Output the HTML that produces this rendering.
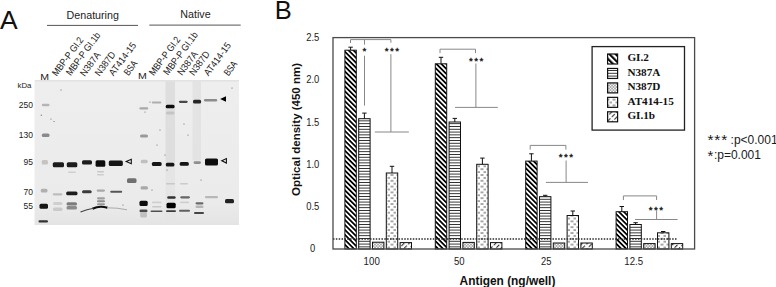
<!DOCTYPE html>
<html><head><meta charset="utf-8"><style>
html,body{margin:0;padding:0;background:#fff;width:776px;height:287px;overflow:hidden}
svg{display:block}
text{font-family:"Liberation Sans",sans-serif}
.serif{font-family:"Liberation Serif",serif;font-weight:bold}
</style></head><body>
<svg width="776" height="287" viewBox="0 0 776 287">
<defs>
<pattern id="pGI2" patternUnits="userSpaceOnUse" width="3.5" height="10" patternTransform="rotate(-45)">
<rect x="0" y="0" width="3.5" height="10" fill="#fff"/><rect x="0" y="0" width="1.75" height="10" fill="#000"/></pattern>
<pattern id="pN387A" patternUnits="userSpaceOnUse" width="10" height="2.8">
<rect x="0" y="0" width="10" height="2.8" fill="#fff"/><rect x="0" y="0" width="10" height="0.9" fill="#222"/></pattern>
<pattern id="pN387D" patternUnits="userSpaceOnUse" width="3" height="3">
<rect width="3" height="3" fill="#fff"/><circle cx="1.5" cy="1.5" r="1.1" fill="none" stroke="#777" stroke-width="0.7"/></pattern>
<pattern id="pAT" patternUnits="userSpaceOnUse" width="6" height="5.8">
<rect width="6" height="5.8" fill="#fff"/><rect x="0.5" y="0.5" width="3" height="1" fill="#555"/><rect x="3.5" y="3.4" width="3" height="1" fill="#555"/></pattern>
<pattern id="pGI1b" patternUnits="userSpaceOnUse" width="3.6" height="6" patternTransform="rotate(45)">
<rect width="3.6" height="6" fill="#fff"/><rect x="0" y="0" width="1.1" height="4.2" fill="#333"/></pattern>
<pattern id="lGI2" patternUnits="userSpaceOnUse" width="4.4" height="10" patternTransform="rotate(-45)">
<rect x="0" y="0" width="4.4" height="10" fill="#fff"/><rect x="0" y="0" width="2.1" height="10" fill="#000"/></pattern>
<filter id="b1" x="-50%" y="-50%" width="200%" height="200%"><feGaussianBlur stdDeviation="0.75"/></filter><filter id="b0" x="-10%" y="-10%" width="120%" height="120%"><feGaussianBlur stdDeviation="0.45"/></filter>
<filter id="b2" x="-50%" y="-50%" width="200%" height="200%"><feGaussianBlur stdDeviation="1.3"/></filter>
<filter id="b3" x="-50%" y="-50%" width="200%" height="200%"><feGaussianBlur stdDeviation="2.5"/></filter>
</defs>

<text x="-0.1" y="28.7" font-size="26.5" fill="#111">A</text>
<text x="274.8" y="18.9" font-size="25.5" fill="#111">B</text>
<rect x="344.90" y="50.20" width="11.4" height="198.80" fill="url(#pGI2)" stroke="#111" stroke-width="1"/>
<line x1="350.60" y1="50.20" x2="350.60" y2="47.20" stroke="#111" stroke-width="1"/>
<line x1="348.40" y1="47.20" x2="352.80" y2="47.20" stroke="#111" stroke-width="1"/>
<rect x="358.70" y="118.70" width="11.4" height="130.30" fill="url(#pN387A)" stroke="#111" stroke-width="1"/>
<line x1="364.40" y1="118.70" x2="364.40" y2="113.10" stroke="#111" stroke-width="1"/>
<line x1="362.20" y1="113.10" x2="366.60" y2="113.10" stroke="#111" stroke-width="1"/>
<rect x="372.50" y="242.20" width="11.4" height="6.80" fill="url(#pN387D)" stroke="#111" stroke-width="1"/>
<rect x="386.30" y="173.00" width="11.4" height="76.00" fill="url(#pAT)" stroke="#111" stroke-width="1"/>
<line x1="392.00" y1="173.00" x2="392.00" y2="166.30" stroke="#111" stroke-width="1"/>
<line x1="389.80" y1="166.30" x2="394.20" y2="166.30" stroke="#111" stroke-width="1"/>
<rect x="400.10" y="242.60" width="11.4" height="6.40" fill="url(#pGI1b)" stroke="#111" stroke-width="1"/>
<rect x="435.30" y="63.80" width="11.4" height="185.20" fill="url(#pGI2)" stroke="#111" stroke-width="1"/>
<line x1="441.00" y1="63.80" x2="441.00" y2="57.30" stroke="#111" stroke-width="1"/>
<line x1="438.80" y1="57.30" x2="443.20" y2="57.30" stroke="#111" stroke-width="1"/>
<rect x="449.10" y="122.00" width="11.4" height="127.00" fill="url(#pN387A)" stroke="#111" stroke-width="1"/>
<line x1="454.80" y1="122.00" x2="454.80" y2="118.40" stroke="#111" stroke-width="1"/>
<line x1="452.60" y1="118.40" x2="457.00" y2="118.40" stroke="#111" stroke-width="1"/>
<rect x="462.90" y="242.40" width="11.4" height="6.60" fill="url(#pN387D)" stroke="#111" stroke-width="1"/>
<rect x="476.70" y="164.30" width="11.4" height="84.70" fill="url(#pAT)" stroke="#111" stroke-width="1"/>
<line x1="482.40" y1="164.30" x2="482.40" y2="158.10" stroke="#111" stroke-width="1"/>
<line x1="480.20" y1="158.10" x2="484.60" y2="158.10" stroke="#111" stroke-width="1"/>
<rect x="490.50" y="242.60" width="11.4" height="6.40" fill="url(#pGI1b)" stroke="#111" stroke-width="1"/>
<rect x="525.70" y="161.10" width="11.4" height="87.90" fill="url(#pGI2)" stroke="#111" stroke-width="1"/>
<line x1="531.40" y1="161.10" x2="531.40" y2="153.80" stroke="#111" stroke-width="1"/>
<line x1="529.20" y1="153.80" x2="533.60" y2="153.80" stroke="#111" stroke-width="1"/>
<rect x="539.50" y="196.70" width="11.4" height="52.30" fill="url(#pN387A)" stroke="#111" stroke-width="1"/>
<line x1="545.20" y1="196.70" x2="545.20" y2="195.30" stroke="#111" stroke-width="1"/>
<line x1="543.00" y1="195.30" x2="547.40" y2="195.30" stroke="#111" stroke-width="1"/>
<rect x="553.30" y="243.00" width="11.4" height="6.00" fill="url(#pN387D)" stroke="#111" stroke-width="1"/>
<rect x="567.10" y="215.50" width="11.4" height="33.50" fill="url(#pAT)" stroke="#111" stroke-width="1"/>
<line x1="572.80" y1="215.50" x2="572.80" y2="211.00" stroke="#111" stroke-width="1"/>
<line x1="570.60" y1="211.00" x2="575.00" y2="211.00" stroke="#111" stroke-width="1"/>
<rect x="580.90" y="243.00" width="11.4" height="6.00" fill="url(#pGI1b)" stroke="#111" stroke-width="1"/>
<rect x="616.10" y="211.70" width="11.4" height="37.30" fill="url(#pGI2)" stroke="#111" stroke-width="1"/>
<line x1="621.80" y1="211.70" x2="621.80" y2="206.50" stroke="#111" stroke-width="1"/>
<line x1="619.60" y1="206.50" x2="624.00" y2="206.50" stroke="#111" stroke-width="1"/>
<rect x="629.90" y="224.50" width="11.4" height="24.50" fill="url(#pN387A)" stroke="#111" stroke-width="1"/>
<line x1="635.60" y1="224.50" x2="635.60" y2="222.70" stroke="#111" stroke-width="1"/>
<line x1="633.40" y1="222.70" x2="637.80" y2="222.70" stroke="#111" stroke-width="1"/>
<rect x="643.70" y="243.60" width="11.4" height="5.40" fill="url(#pN387D)" stroke="#111" stroke-width="1"/>
<rect x="657.50" y="232.80" width="11.4" height="16.20" fill="url(#pAT)" stroke="#111" stroke-width="1"/>
<line x1="663.20" y1="232.80" x2="663.20" y2="231.50" stroke="#111" stroke-width="1"/>
<line x1="661.00" y1="231.50" x2="665.40" y2="231.50" stroke="#111" stroke-width="1"/>
<rect x="671.30" y="243.60" width="11.4" height="5.40" fill="url(#pGI1b)" stroke="#111" stroke-width="1"/>
<line x1="333.0" y1="239" x2="677" y2="239" stroke="#2a2a2a" stroke-width="1.5" stroke-dasharray="1.5 1.35"/>
<rect x="333.0" y="37.6" width="361.6" height="211.4" fill="none" stroke="#4a4a4a" stroke-width="1.3"/>
<line x1="350.5" y1="39.6" x2="390.9" y2="39.6" stroke="#888" stroke-width="1"/>
<line x1="350.5" y1="39.6" x2="350.5" y2="43" stroke="#888" stroke-width="1"/>
<line x1="364.5" y1="39.6" x2="364.5" y2="44.7" stroke="#888" stroke-width="1"/>
<line x1="364.5" y1="55.7" x2="364.5" y2="105.6" stroke="#888" stroke-width="1"/>
<line x1="390.9" y1="39.6" x2="390.9" y2="42.8" stroke="#888" stroke-width="1"/>
<line x1="390.9" y1="54.1" x2="390.9" y2="132" stroke="#888" stroke-width="1"/>
<line x1="374.8" y1="132" x2="408.8" y2="132" stroke="#888" stroke-width="1"/>
<line x1="440" y1="49.2" x2="475.5" y2="49.2" stroke="#888" stroke-width="1"/>
<line x1="440" y1="49.2" x2="440" y2="53.1" stroke="#888" stroke-width="1"/>
<line x1="475.5" y1="49.2" x2="475.5" y2="53.1" stroke="#888" stroke-width="1"/>
<line x1="475.9" y1="63.5" x2="475.9" y2="107.4" stroke="#888" stroke-width="1"/>
<line x1="455" y1="107.4" x2="497.8" y2="107.4" stroke="#888" stroke-width="1"/>
<line x1="530.2" y1="145.4" x2="565.9" y2="145.4" stroke="#888" stroke-width="1"/>
<line x1="530.2" y1="145.4" x2="530.2" y2="149.6" stroke="#888" stroke-width="1"/>
<line x1="565.9" y1="145.4" x2="565.9" y2="149.6" stroke="#888" stroke-width="1"/>
<line x1="566.1" y1="160.5" x2="566.1" y2="182.4" stroke="#888" stroke-width="1"/>
<line x1="545.9" y1="182.4" x2="588" y2="182.4" stroke="#888" stroke-width="1"/>
<line x1="623.4" y1="195.9" x2="656.6" y2="195.9" stroke="#888" stroke-width="1"/>
<line x1="623.4" y1="195.9" x2="623.4" y2="200" stroke="#888" stroke-width="1"/>
<line x1="656.6" y1="195.9" x2="656.6" y2="200" stroke="#888" stroke-width="1"/>
<line x1="656.6" y1="210.5" x2="656.6" y2="219.5" stroke="#888" stroke-width="1"/>
<line x1="635" y1="219.5" x2="677.6" y2="219.5" stroke="#888" stroke-width="1"/>
<text x="362.5" y="54.4" font-size="9.8" letter-spacing="0" fill="#111" stroke="#111" stroke-width="0.35">*</text>
<text x="384.8" y="53.8" font-size="9.8" letter-spacing="1.45" fill="#111" stroke="#111" stroke-width="0.35">***</text>
<text x="469" y="64" font-size="9.8" letter-spacing="1.45" fill="#111" stroke="#111" stroke-width="0.35">***</text>
<text x="558.8" y="160.3" font-size="9.8" letter-spacing="1.45" fill="#111" stroke="#111" stroke-width="0.35">***</text>
<text x="648.8" y="212.5" font-size="9.8" letter-spacing="1.45" fill="#111" stroke="#111" stroke-width="0.35">***</text>
<text x="306.2" y="40.9" font-size="10.4" textLength="13.1" lengthAdjust="spacingAndGlyphs" fill="#1a1a1a">2.5</text>
<text x="306.2" y="83.2" font-size="10.4" textLength="13.1" lengthAdjust="spacingAndGlyphs" fill="#1a1a1a">2.0</text>
<text x="306.2" y="125.5" font-size="10.4" textLength="13.1" lengthAdjust="spacingAndGlyphs" fill="#1a1a1a">1.5</text>
<text x="306.2" y="167.7" font-size="10.4" textLength="13.1" lengthAdjust="spacingAndGlyphs" fill="#1a1a1a">1.0</text>
<text x="306.2" y="210.0" font-size="10.4" textLength="13.1" lengthAdjust="spacingAndGlyphs" fill="#1a1a1a">0.5</text>
<text x="309.9" y="252.3" font-size="10.4" textLength="5.2" lengthAdjust="spacingAndGlyphs" fill="#1a1a1a">0</text>
<text x="363.6" y="264.6" font-size="10.4" textLength="16.2" lengthAdjust="spacingAndGlyphs" fill="#1a1a1a">100</text>
<text x="453.9" y="264.6" font-size="10.4" textLength="10.6" lengthAdjust="spacingAndGlyphs" fill="#1a1a1a">50</text>
<text x="541.1" y="264.6" font-size="10.4" textLength="10.4" lengthAdjust="spacingAndGlyphs" fill="#1a1a1a">25</text>
<text x="624.3" y="264.6" font-size="10.4" textLength="18.8" lengthAdjust="spacingAndGlyphs" fill="#1a1a1a">12.5</text>
<text x="459.6" y="284.5" font-size="11.9" font-weight="bold" fill="#111">Antigen (ng/well)</text>
<text transform="translate(300.2,195.9) rotate(-90)" font-size="11.5" font-weight="bold" fill="#111">Optical density (450 nm)</text>
<rect x="592.1" y="46.6" width="92.4" height="83.5" fill="#fff" stroke="#222" stroke-width="1.3"/>
<rect x="607.6" y="54.00" width="10" height="10" fill="url(#lGI2)" stroke="#111" stroke-width="1.2"/>
<text class="serif" x="627.4" y="61.20" font-size="11.2" fill="#111">GI.2</text>
<rect x="607.6" y="68.45" width="10" height="10" fill="url(#pN387A)" stroke="#111" stroke-width="1.2"/>
<text class="serif" x="627.4" y="75.65" font-size="11.2" fill="#111">N387A</text>
<rect x="607.6" y="82.90" width="10" height="10" fill="url(#pN387D)" stroke="#111" stroke-width="1.2"/>
<text class="serif" x="627.4" y="90.10" font-size="11.2" fill="#111">N387D</text>
<rect x="607.6" y="97.35" width="10" height="10" fill="url(#pAT)" stroke="#111" stroke-width="1.2"/>
<text class="serif" x="627.4" y="104.55" font-size="11.2" fill="#111">AT414-15</text>
<rect x="607.6" y="111.80" width="10" height="10" fill="url(#pGI1b)" stroke="#111" stroke-width="1.2"/>
<text class="serif" x="627.4" y="119.00" font-size="11.2" fill="#111">GI.1b</text>
<text x="707.4" y="145.3" font-size="15.5" letter-spacing="0.9" fill="#1a1a1a">***</text>
<text x="730.6" y="143.8" font-size="12.0" fill="#1a1a1a">:p&lt;0.001</text>
<text x="707.4" y="160.8" font-size="15" fill="#1a1a1a">*</text>
<text x="713.9" y="159.4" font-size="12.0" fill="#1a1a1a">:p=0.001</text>
<text x="66.6" y="18.7" font-size="10.7" fill="#222">Denaturing</text>
<text x="180.3" y="17.7" font-size="10.7" fill="#222">Native</text>
<line x1="47" y1="25.4" x2="138" y2="25.4" stroke="#555" stroke-width="1"/>
<line x1="149.3" y1="25.1" x2="240.7" y2="25.1" stroke="#555" stroke-width="1"/>
<defs><linearGradient id="gelg" x1="0" y1="0" x2="0" y2="1"><stop offset="0" stop-color="#eeeeee"/><stop offset="0.85" stop-color="#ebebeb"/><stop offset="1" stop-color="#e4e4e4"/></linearGradient></defs>
<rect x="34.5" y="80" width="204.5" height="145" fill="url(#gelg)" filter="url(#b0)"/>
<g filter="url(#b1)">
<rect x="165.5" y="80.5" width="9.5" height="85" fill="#dedede"/>
<rect x="165.5" y="165" width="9.5" height="57" fill="#e5e5e5"/>
<rect x="192.5" y="80.5" width="8.5" height="80" fill="#e3e3e3"/>
<rect x="35" y="80" width="204" height="1.5" fill="#e2e2e2"/>
</g>
<g filter="url(#b1)">
<rect x="41.8" y="103.8" width="7.7" height="2.5" rx="1.2" fill="#b5b5b5"/>
<rect x="41.8" y="133.5" width="7.7" height="3.5" rx="1.5" fill="#8a8a8a"/>
<rect x="41.7" y="160" width="6.3" height="4.5" rx="1.5" fill="#c4c4c4"/>
<rect x="40.7" y="188.7" width="6.8" height="3.8" rx="1.5" fill="#b0b0b0"/>
<rect x="39.5" y="203.8" width="8.5" height="5.0" rx="1.5" fill="#151515"/>
<rect x="38.5" y="220.3" width="9.5" height="2.2" rx="1.1" fill="#333"/>
<rect x="52.8" y="162.3" width="11.2" height="4.9" rx="1.5" fill="#1a1a1a"/>
<rect x="52.7" y="193.2" width="9.8" height="2.3" rx="1.2" fill="#bdbdbd"/>
<rect x="53" y="202" width="9.5" height="3.0" rx="1.5" fill="#cfcfcf"/>
<rect x="53" y="207.5" width="9.5" height="3.5" rx="1.5" fill="#cacaca"/>
<rect x="66.8" y="162.3" width="10.5" height="4.9" rx="1.5" fill="#1a1a1a"/>
<rect x="68" y="171.6" width="8.0" height="1.4" rx="0.7" fill="#d0d0d0"/>
<rect x="66.2" y="191.5" width="11.3" height="3.8" rx="1.5" fill="#1e1e1e"/>
<rect x="66.5" y="202.2" width="10.5" height="3.3" rx="1.5" fill="#7c7c7c"/>
<rect x="66.5" y="206" width="10.5" height="3.5" rx="1.5" fill="#8a8a8a"/>
<rect x="82" y="160.2" width="10.0" height="4.3" rx="1.5" fill="#1c1c1c"/>
<rect x="82" y="190.2" width="9.7" height="3.0" rx="1.5" fill="#3a3a3a"/>
<rect x="95.6" y="160.3" width="9.7" height="6.4" rx="1.5" fill="#0a0a0a"/>
<rect x="97" y="171" width="7.0" height="1.5" rx="0.8" fill="#c8c8c8"/>
<rect x="97" y="174" width="7.0" height="1.5" rx="0.8" fill="#cdcdcd"/>
<rect x="96.7" y="189.5" width="8.3" height="2.2" rx="1.1" fill="#a8a8a8"/>
<rect x="97" y="197.2" width="8.0" height="2.2" rx="1.1" fill="#a0a0a0"/>
<rect x="97" y="200.3" width="8.0" height="2.0" rx="1.0" fill="#8e8e8e"/>
<rect x="97" y="203.2" width="8.0" height="2.1" rx="1.1" fill="#999"/>
<rect x="108.8" y="160.4" width="14.0" height="5.6" rx="1.5" fill="#141414"/>
<rect x="110.2" y="190.7" width="12.0" height="2.1" rx="1.1" fill="#555"/>
<rect x="127" y="178.3" width="9.5" height="4.7" rx="1.5" fill="#707070"/>
<rect x="139.4" y="107.3" width="8.8" height="2.2" rx="1.1" fill="#a8a8a8"/>
<rect x="140" y="134.5" width="8.0" height="3.0" rx="1.5" fill="#9a9a9a"/>
<rect x="140.7" y="159.8" width="7.0" height="3.4" rx="1.5" fill="#c0c0c0"/>
<rect x="140.5" y="186.3" width="7.5" height="3.2" rx="1.5" fill="#a8a8a8"/>
<rect x="139.5" y="200.7" width="8.2" height="5.3" rx="1.5" fill="#0c0c0c"/>
<rect x="139.5" y="209.6" width="8.0" height="2.6" rx="1.3" fill="#4a4a4a"/>
<rect x="140.2" y="212" width="6.8" height="5.5" rx="1.5" fill="#c0c0c0"/>
<rect x="151.8" y="101.4" width="9.6" height="2.2" rx="1.1" fill="#adadad"/>
<rect x="151.9" y="162.1" width="9.7" height="3.9" rx="1.5" fill="#141414"/>
<rect x="152" y="201.5" width="9.5" height="1.8" rx="0.9" fill="#cfcfcf"/>
<rect x="152" y="206" width="9.5" height="1.5" rx="0.8" fill="#c8c8c8"/>
<rect x="150.5" y="210.4" width="12.0" height="1.6" rx="0.8" fill="#505050"/>
<rect x="165.7" y="104.8" width="8.9" height="3.5" rx="1.5" fill="#111"/>
<rect x="166" y="111.5" width="8.5" height="3.0" rx="1.5" fill="#c4c4c4"/>
<rect x="165.8" y="162.7" width="8.6" height="3.8" rx="1.5" fill="#141414"/>
<rect x="166" y="183" width="9.0" height="1.5" rx="0.8" fill="#c8c8c8"/>
<rect x="167.2" y="196.2" width="8.5" height="2.6" rx="1.3" fill="#333"/>
<rect x="166.5" y="202.7" width="9.2" height="5.5" rx="1.5" fill="#050505"/>
<rect x="166" y="210.2" width="10.0" height="1.8" rx="0.9" fill="#3a3a3a"/>
<rect x="178.9" y="100.7" width="8.8" height="2.2" rx="1.1" fill="#4a4a4a"/>
<rect x="179.7" y="162.1" width="9.1" height="3.7" rx="1.5" fill="#141414"/>
<rect x="180" y="183" width="8.0" height="1.5" rx="0.8" fill="#cacaca"/>
<rect x="180.2" y="196.2" width="9.8" height="2.3" rx="1.2" fill="#666"/>
<rect x="180" y="201.5" width="9.0" height="1.8" rx="0.9" fill="#cfcfcf"/>
<rect x="179" y="209.8" width="11.0" height="2.0" rx="1.0" fill="#606060"/>
<rect x="193" y="99.8" width="8.1" height="3.6" rx="1.5" fill="#262626"/>
<rect x="193.6" y="161.2" width="7.4" height="2.8" rx="1.4" fill="#8f8f8f"/>
<rect x="195.5" y="202.2" width="8.0" height="2.3" rx="1.2" fill="#6a6a6a"/>
<rect x="195.5" y="205.5" width="8.0" height="2.6" rx="1.3" fill="#b5b5b5"/>
<rect x="194" y="212" width="10.0" height="2.0" rx="1.0" fill="#444"/>
<rect x="204" y="98.9" width="13.2" height="2.5" rx="1.2" fill="#8c8c8c"/>
<rect x="205" y="158.6" width="13.0" height="6.8" rx="1.5" fill="#101010"/>
<rect x="205" y="196.1" width="13.0" height="2.2" rx="1.1" fill="#b8b8b8"/>
<rect x="225" y="199" width="9.0" height="4.2" rx="1.5" fill="#222"/>
<path d="M92.5 208.8 Q99.5 205.2 107.5 207.8" stroke="#0a0a0a" stroke-width="2.1" fill="none"/>
<path d="M80.5 212 Q87 209.3 93.5 208.3" stroke="#444" stroke-width="1.1" fill="none"/>
<path d="M107 207.8 Q117 207.6 127 209.8" stroke="#aaa" stroke-width="1" fill="none"/>
</g>
<path d="M126.2 161.5 L131.3 159.3 L131.3 163.7 Z" fill="none" stroke="#111" stroke-width="1.1"/>
<path d="M221.8 160.7 L226.4 158.6 L226.4 163 Z" fill="none" stroke="#111" stroke-width="1.1"/>
<path d="M220.1 99 L226 96.3 L226 101.7 Z" fill="#000"/>
<circle cx="41.3" cy="115.2" r="0.6" fill="#666"/>
<circle cx="51" cy="119" r="0.6" fill="#666"/>
<circle cx="54" cy="121.5" r="0.6" fill="#666"/>
<circle cx="61" cy="90" r="0.6" fill="#666"/>
<circle cx="145" cy="112" r="0.6" fill="#666"/>
<circle cx="150" cy="102" r="0.6" fill="#666"/>
<circle cx="184" cy="124" r="0.6" fill="#666"/>
<circle cx="160" cy="130" r="0.6" fill="#666"/>
<circle cx="188" cy="135" r="0.6" fill="#666"/>
<circle cx="157" cy="145" r="0.6" fill="#666"/>
<circle cx="165" cy="155" r="0.6" fill="#666"/>
<circle cx="201" cy="180" r="0.6" fill="#666"/>
<circle cx="167" cy="170" r="0.6" fill="#666"/>
<circle cx="232" cy="88" r="0.6" fill="#666"/>
<circle cx="152" cy="190" r="0.6" fill="#666"/>
<circle cx="123" cy="205" r="0.6" fill="#666"/>
<text transform="translate(56.7,76.7) rotate(-53.5)" font-size="9.7" textLength="45.6" lengthAdjust="spacingAndGlyphs" fill="#1a1a1a">MBP-P GI.2</text>
<text transform="translate(70.7,76.2) rotate(-53.5)" font-size="9.7" textLength="50.8" lengthAdjust="spacingAndGlyphs" fill="#1a1a1a">MBP-P GI.1b</text>
<text transform="translate(84.8,76.9) rotate(-53.5)" font-size="9.7" textLength="27.2" lengthAdjust="spacingAndGlyphs" fill="#1a1a1a">N387A</text>
<text transform="translate(99.6,76.7) rotate(-53.5)" font-size="9.7" textLength="27.5" lengthAdjust="spacingAndGlyphs" fill="#1a1a1a">N387D</text>
<text transform="translate(113.6,76.5) rotate(-53.5)" font-size="9.7" textLength="38.7" lengthAdjust="spacingAndGlyphs" fill="#1a1a1a">AT414-15</text>
<text transform="translate(128.5,76.2) rotate(-53.5)" font-size="9.7" textLength="15.7" lengthAdjust="spacingAndGlyphs" fill="#1a1a1a">BSA</text>
<text transform="translate(153.7,76.2) rotate(-53.5)" font-size="9.7" textLength="45.6" lengthAdjust="spacingAndGlyphs" fill="#1a1a1a">MBP-P GI.2</text>
<text transform="translate(168.1,75.8) rotate(-53.5)" font-size="9.7" textLength="50.8" lengthAdjust="spacingAndGlyphs" fill="#1a1a1a">MBP-P GI.1b</text>
<text transform="translate(182,76.1) rotate(-53.5)" font-size="9.7" textLength="27.2" lengthAdjust="spacingAndGlyphs" fill="#1a1a1a">N387A</text>
<text transform="translate(193.9,76.2) rotate(-53.5)" font-size="9.7" textLength="27.5" lengthAdjust="spacingAndGlyphs" fill="#1a1a1a">N387D</text>
<text transform="translate(208.5,76.6) rotate(-53.5)" font-size="9.7" textLength="38.7" lengthAdjust="spacingAndGlyphs" fill="#1a1a1a">AT414-15</text>
<text transform="translate(228.4,76.6) rotate(-53.5)" font-size="9.7" textLength="15.7" lengthAdjust="spacingAndGlyphs" fill="#1a1a1a">BSA</text>
<text transform="translate(40.2,79.9) scale(1.2,1)" font-size="8.8" fill="#222">M</text>
<text transform="translate(137.9,79.3) scale(1.2,1)" font-size="8.8" fill="#222">M</text>
<text x="31.4" y="87.6" font-size="7.8" text-anchor="end" fill="#1a1a1a">kDa</text>
<text x="32.9" y="108.3" font-size="8.5" text-anchor="end" fill="#1a1a1a">250</text>
<text x="32.9" y="138.1" font-size="8.5" text-anchor="end" fill="#1a1a1a">130</text>
<text x="32.9" y="164.6" font-size="8.5" text-anchor="end" fill="#1a1a1a">95</text>
<text x="32.9" y="195.1" font-size="8.5" text-anchor="end" fill="#1a1a1a">70</text>
<text x="32.9" y="209.4" font-size="8.5" text-anchor="end" fill="#1a1a1a">55</text>
</svg></body></html>
